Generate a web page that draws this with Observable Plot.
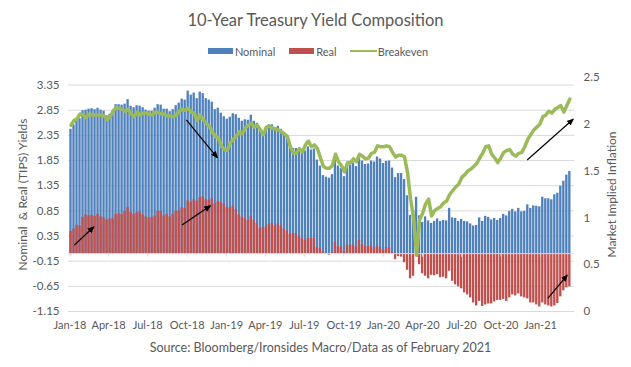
<!DOCTYPE html>
<html>
<head>
<meta charset="utf-8">
<script src="https://cdn.jsdelivr.net/npm/d3@7"></script>
<script src="https://cdn.jsdelivr.net/npm/@observablehq/plot@0.6"></script>
<style>
  html, body { margin: 0; padding: 0; background: #fff; }
  body { width: 631px; font-family: Lato, "Open Sans", sans-serif; color: #595959; }
  #title { height: 40px; line-height: 40px; text-align: center; font-size: 16.5px; }
  #legend { height: 22px; display: flex; justify-content: center; align-items: center; font-size: 11px; padding-left: 5px; }
  #legend .sw { display: inline-block; width: 25px; height: 6px; margin-right: 2px; }
  #legend .ln { display: inline-block; width: 27px; height: 2.5px; background: #9bbb59; margin-right: 1px; }
  #chart svg { display: block; }
  #caption { height: 20px; line-height: 20px; text-align: center; font-size: 12.5px; padding-left: 10px; }
</style>
</head>
<body>
<div id="title">10-Year Treasury Yield Composition</div>
<div id="legend">
  <span class="sw" style="background:#4f81bd"></span><span>Nominal</span>
  <span class="sw" style="background:#c0504d;margin-left:14px"></span><span>Real</span>
  <span class="ln" style="margin-left:13px"></span><span>Breakeven</span>
</div>
<div id="chart"></div>
<div id="caption">Source: Bloomberg/Ironsides Macro/Data as of February 2021</div>
<script>
// Weekly observations (week ending Friday), Jan 5 2018 .. Mar 12 2021
const weekEnding = d3.utcFriday.range(new Date(Date.UTC(2018, 0, 5)), new Date(Date.UTC(2021, 2, 13)));

const nominal2018 = [2.47, 2.56, 2.65, 2.68, 2.84, 2.85, 2.87, 2.88, 2.86, 2.89, 2.85, 2.83, 2.74, 2.77, 2.83, 2.96, 2.96, 2.95, 2.97, 3.06, 2.93, 2.90, 2.94, 2.93, 2.90, 2.85, 2.83, 2.83, 2.89, 2.96, 2.95, 2.87, 2.87, 2.82, 2.86, 2.94, 2.99, 3.07, 3.05, 3.23, 3.15, 3.19, 3.08, 3.21, 3.18, 3.08, 3.05, 3.01, 2.86, 2.89, 2.79, 2.72];
const nominal2019 = [2.67, 2.71, 2.78, 2.76, 2.69, 2.63, 2.66, 2.65, 2.75, 2.63, 2.59, 2.44, 2.41, 2.50, 2.56, 2.56, 2.50, 2.53, 2.47, 2.39, 2.32, 2.14, 2.09, 2.09, 2.07, 2.00, 2.04, 2.12, 2.06, 2.08, 1.86, 1.74, 1.55, 1.52, 1.50, 1.57, 1.90, 1.74, 1.69, 1.53, 1.76, 1.76, 1.80, 1.73, 1.94, 1.84, 1.77, 1.78, 1.84, 1.82, 1.92, 1.88];
const nominal2020 = [1.79, 1.83, 1.84, 1.70, 1.51, 1.59, 1.59, 1.47, 1.15, 0.76, 0.85, 1.12, 0.75, 0.62, 0.73, 0.65, 0.60, 0.64, 0.69, 0.64, 0.66, 0.65, 0.90, 0.71, 0.70, 0.64, 0.68, 0.64, 0.63, 0.59, 0.55, 0.56, 0.71, 0.64, 0.74, 0.72, 0.67, 0.70, 0.66, 0.70, 0.78, 0.75, 0.84, 0.88, 0.83, 0.90, 0.83, 0.84, 0.97, 0.90, 0.95, 0.94];
const nominal2021 = [0.93, 1.12, 1.09, 1.09, 1.07, 1.17, 1.20, 1.34, 1.44, 1.56, 1.63];

const real2018 = [0.44, 0.49, 0.56, 0.55, 0.72, 0.77, 0.75, 0.76, 0.74, 0.78, 0.73, 0.71, 0.67, 0.69, 0.69, 0.78, 0.79, 0.78, 0.84, 0.92, 0.82, 0.78, 0.81, 0.83, 0.77, 0.73, 0.71, 0.72, 0.75, 0.84, 0.84, 0.75, 0.78, 0.73, 0.78, 0.84, 0.85, 0.91, 0.90, 1.05, 1.02, 1.07, 1.04, 1.11, 1.13, 1.07, 1.06, 1.09, 0.99, 1.03, 1.02, 0.99];
const real2019 = [0.91, 0.91, 0.94, 0.88, 0.77, 0.73, 0.70, 0.66, 0.74, 0.66, 0.60, 0.50, 0.52, 0.53, 0.58, 0.60, 0.55, 0.59, 0.55, 0.49, 0.45, 0.38, 0.40, 0.40, 0.33, 0.30, 0.26, 0.30, 0.30, 0.30, 0.12, 0.10, 0.04, 0.00, -0.03, 0.01, 0.22, 0.14, 0.13, 0.04, 0.17, 0.17, 0.17, 0.13, 0.26, 0.18, 0.14, 0.14, 0.15, 0.12, 0.15, 0.12];
const real2020 = [0.07, 0.12, 0.11, 0.02, -0.12, -0.06, -0.07, -0.18, -0.33, -0.50, -0.45, -0.05, -0.22, -0.40, -0.45, -0.50, -0.43, -0.44, -0.42, -0.48, -0.47, -0.50, -0.35, -0.55, -0.62, -0.66, -0.70, -0.78, -0.82, -0.88, -0.98, -1.04, -0.95, -1.05, -1.02, -1.00, -1.00, -0.96, -0.93, -0.93, -0.91, -0.95, -0.88, -0.82, -0.84, -0.80, -0.86, -0.88, -0.90, -0.98, -0.98, -1.02];
const real2021 = [-1.06, -0.98, -1.02, -1.04, -1.06, -1.04, -0.99, -0.86, -0.74, -0.68, -0.66];

const breakeven2018 = [1.99, 2.04, 2.06, 2.11, 2.10, 2.07, 2.11, 2.10, 2.10, 2.10, 2.10, 2.09, 2.05, 2.08, 2.14, 2.18, 2.17, 2.16, 2.14, 2.16, 2.11, 2.08, 2.13, 2.10, 2.12, 2.12, 2.11, 2.10, 2.13, 2.13, 2.11, 2.11, 2.09, 2.09, 2.08, 2.10, 2.14, 2.16, 2.15, 2.17, 2.13, 2.12, 2.04, 2.10, 2.05, 2.01, 1.98, 1.92, 1.87, 1.86, 1.77, 1.73];
const breakeven2019 = [1.72, 1.80, 1.84, 1.87, 1.92, 1.90, 1.96, 1.99, 2.01, 1.97, 1.99, 1.94, 1.89, 1.97, 1.98, 1.96, 1.95, 1.94, 1.92, 1.90, 1.87, 1.76, 1.69, 1.69, 1.74, 1.70, 1.78, 1.82, 1.76, 1.78, 1.74, 1.64, 1.55, 1.53, 1.53, 1.56, 1.68, 1.60, 1.56, 1.49, 1.59, 1.59, 1.63, 1.60, 1.68, 1.66, 1.63, 1.64, 1.69, 1.70, 1.77, 1.76];
const breakeven2020 = [1.76, 1.77, 1.76, 1.70, 1.65, 1.67, 1.67, 1.65, 1.48, 1.20, 1.00, 0.60, 0.98, 1.05, 1.15, 1.20, 1.02, 1.08, 1.10, 1.12, 1.16, 1.18, 1.25, 1.29, 1.33, 1.36, 1.43, 1.46, 1.50, 1.52, 1.55, 1.58, 1.64, 1.69, 1.76, 1.77, 1.68, 1.64, 1.59, 1.64, 1.70, 1.72, 1.73, 1.68, 1.66, 1.69, 1.70, 1.76, 1.84, 1.89, 1.94, 1.97];
const breakeven2021 = [2.00, 2.08, 2.10, 2.14, 2.12, 2.16, 2.18, 2.20, 2.13, 2.20, 2.27];

// Axis ticks
const leftTicks = [-1.15, -0.65, -0.15, 0.35, 0.85, 1.35, 1.85, 2.35, 2.85, 3.35];
const rightTicks = [0, 0.5, 1, 1.5, 2, 2.5];
const xTicks = d3.utcMonth.every(3).range(new Date(Date.UTC(2018, 0, 1)), new Date(Date.UTC(2021, 0, 2)));

// Annotation arrows (date, left-axis value)
const arrows = [
  {x1: "2018-01-11", y1: 0.17, x2: "2018-02-25", y2: 0.53},
  {x1: "2018-09-19", y1: 0.57, x2: "2018-11-24", y2: 0.95},
  {x1: "2018-09-29", y1: 2.66, x2: "2018-12-10", y2: 1.91},
  {x1: "2020-12-01", y1: 1.86, x2: "2021-03-18", y2: 2.67},
  {x1: "2021-01-18", y1: -0.89, x2: "2021-03-04", y2: -0.43}
].map(a => ({...a, x1: new Date(a.x1), x2: new Date(a.x2)}));

const leftTitle = "Nominal\u00a0 & Real (TIPS) Yields";
const rightTitle = "Market Implied Inflation";

// ---- build ----
const nominal = [...nominal2018, ...nominal2019, ...nominal2020, ...nominal2021];
const real = [...real2018, ...real2019, ...real2020, ...real2021];
const breakeven = [...breakeven2018, ...breakeven2019, ...breakeven2020, ...breakeven2021];

const DAY = 864e5;
const rows = weekEnding.map((d, i) => ({
  start: new Date(+d - 4.4 * DAY),
  end: new Date(+d + 1.05 * DAY),
  mid: new Date(+d - 1.6 * DAY),
  nominal: nominal[i], real: real[i], breakeven: breakeven[i]
}));

// right axis (0..2.5) shares the pixel range of the left axis (-1.15..3.5)
const yMin = -1.15, yMax = 3.5, rMax = 2.5;
const toLeft = v => yMin + v * (yMax - yMin) / rMax;

const chart = Plot.plot({
  width: 631, height: 276,
  marginLeft: 68, marginRight: 57, marginTop: 15, marginBottom: 27,
  style: {fontFamily: "Lato, 'Open Sans', sans-serif", fontSize: "11px", color: "#595959", background: "#fff", overflow: "visible"},
  x: {type: "utc", domain: [new Date(Date.UTC(2017, 11, 28, 12)), new Date(Date.UTC(2021, 2, 21, 5))], label: null},
  y: {domain: [yMin, yMax], label: null},
  marks: [
    Plot.gridY(leftTicks, {stroke: "#d9d9d9", strokeOpacity: 1}),
    Plot.rect(rows, {x1: "start", x2: "end", y1: 0, y2: "nominal", fill: "#4f81bd"}),
    Plot.rect(rows, {x1: "start", x2: "end", y1: 0, y2: "real", fill: "#c0504d"}),
    Plot.ruleY([0], {stroke: "#d9d9d9"}),
    Plot.ruleX(xTicks, {y1: 0, y2: -0.07, stroke: "#d9d9d9"}),
    Plot.lineY(rows, {x: "mid", y: d => toLeft(d.breakeven), stroke: "#9bbb59", strokeWidth: 3.5, strokeLinejoin: "round"}),
    Plot.link(arrows, {x1: "x1", y1: "y1", x2: "x2", y2: "y2", stroke: "#000", strokeWidth: 1.2, markerEnd: "arrow"}),
    Plot.axisY(leftTicks, {tickSize: 0, tickPadding: 9, tickFormat: d => d.toFixed(2), label: null, fontSize: 11.5}),
    Plot.axisX(xTicks, {tickSize: 0, tickPadding: 10, tickFormat: d3.utcFormat("%b-%y"), label: null, fontSize: 11}),
    Plot.text(rightTicks, {y: d => toLeft(d), text: d => String(d), frameAnchor: "right", textAnchor: "start", dx: 9, fontSize: 11.5}),
    Plot.text([leftTitle], {frameAnchor: "left", textAnchor: "middle", rotate: -90, dx: -45, fontSize: 12}),
    Plot.text([rightTitle], {frameAnchor: "right", textAnchor: "middle", rotate: -90, dx: 38, fontSize: 12})
  ]
});

// filled arrow heads
d3.select(chart).selectAll("marker")
  .attr("markerWidth", 10).attr("markerHeight", 10)
  .attr("fill", "#000").attr("stroke", "none")
  .select("path").attr("d", "M-5,-2.6L1,0L-5,2.6Z");

document.getElementById("chart").appendChild(chart);
</script>
</body>
</html>
